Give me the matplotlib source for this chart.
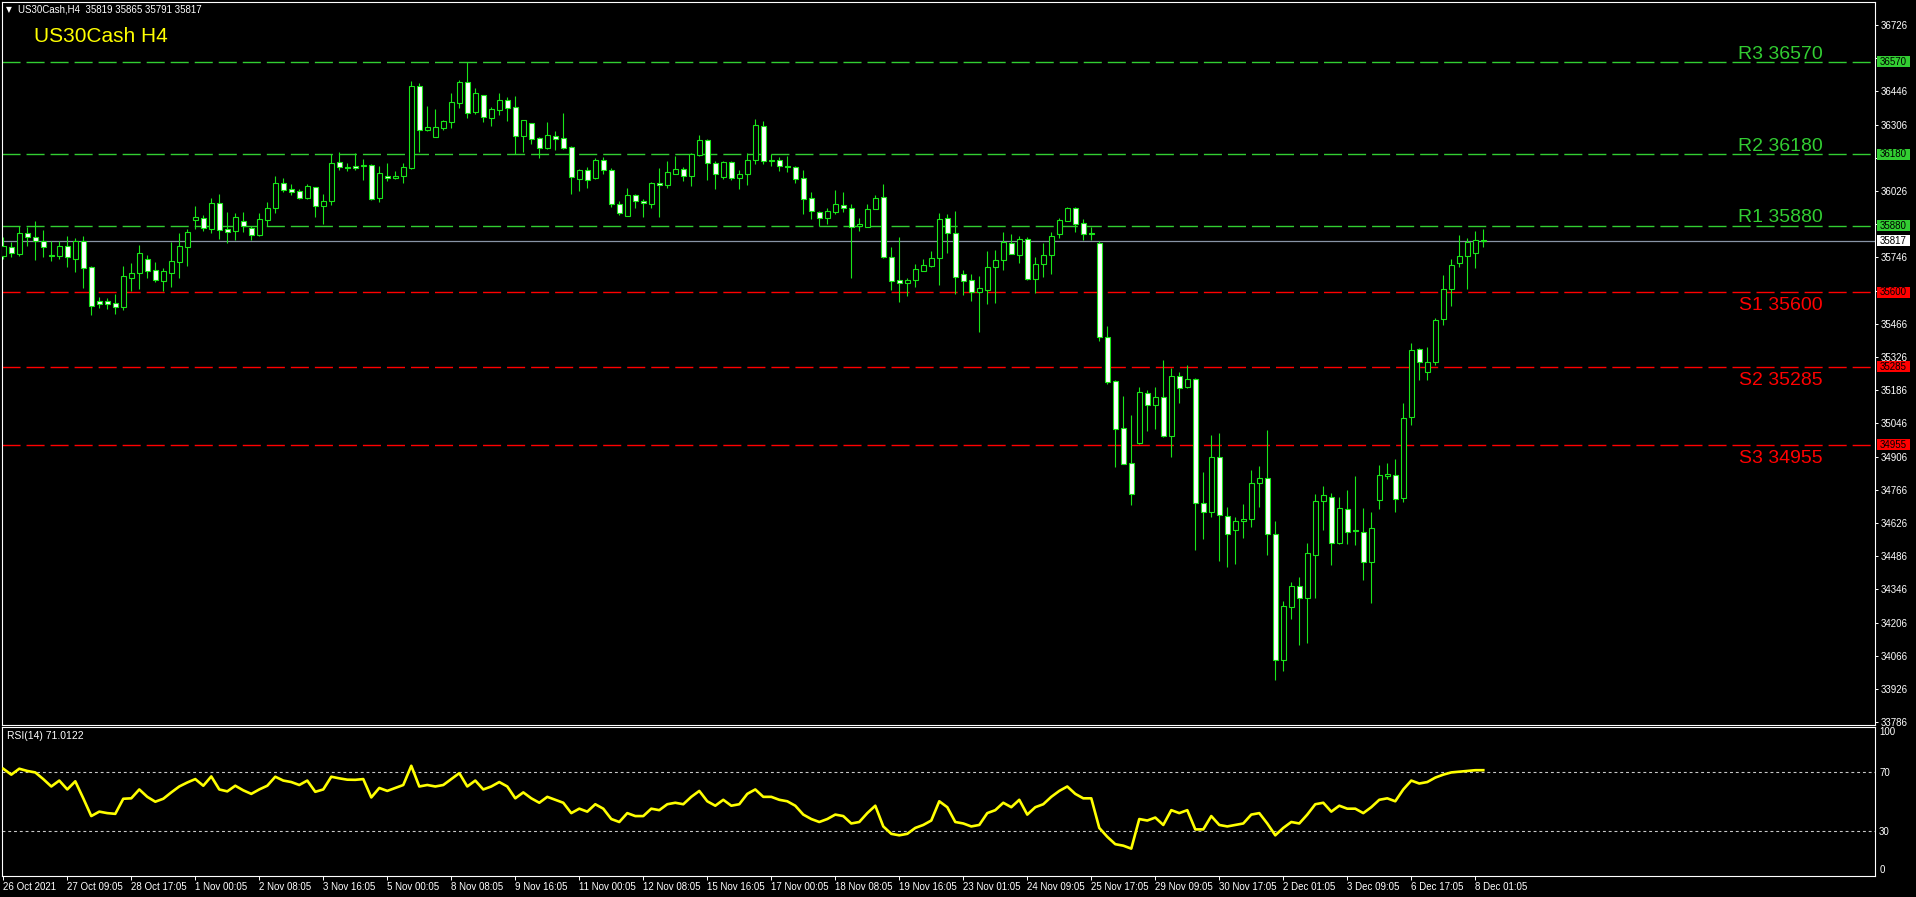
import matplotlib
matplotlib.use("Agg")
import matplotlib.pyplot as plt
import matplotlib.transforms as mtransforms
from matplotlib.patches import Rectangle
import numpy as np

plt.rcParams['font.family'] = ['Liberation Sans', 'DejaVu Sans']

# ---- data (US30Cash, H4) ----
opens = [35753, 35791, 35762, 35847, 35831, 35814, 35756, 35753, 35793, 35741,
         35815, 35705, 35561, 35561, 35552, 35538, 35660, 35679, 35738, 35691,
         35648, 35681, 35728, 35791, 35905, 35911, 35867, 35974, 35864, 35856,
         35898, 35871, 35840, 35905, 35956, 36058, 36033, 36025, 35998, 36041,
         35964, 35984, 36147, 36127, 36131, 36130, 36134, 35998, 36091, 36079,
         36091, 36124, 36467, 36282, 36255, 36293, 36318, 36398, 36484, 36361,
         36429, 36335, 36369, 36408, 36379, 36259, 36311, 36248, 36209, 36256,
         36248, 36210, 36078, 36113, 36079, 36155, 36113, 35973, 35922, 36008,
         35982, 35973, 36058, 36053, 36099, 36117, 36091, 36178, 36240, 36143,
         36085, 36147, 36082, 36096, 36155, 36300, 36155, 36155, 36133, 36126,
         36080, 35995, 35936, 35914, 35937, 35969, 35956, 35880, 35876, 35949,
         35999, 35749, 35649, 35636, 35652, 35690, 35710, 35743, 35911, 35847,
         35678, 35649, 35602, 35608, 35706, 35733, 35805, 35757, 35822, 35653,
         35719, 35757, 35845, 35901, 35953, 35889, 35847, 35805, 35412, 35226,
         35025, 34877, 34965, 35173, 35125, 35156, 34994, 35244, 35201, 35232,
         34709, 34671, 34903, 34654, 34595, 34633, 34641, 34793, 34814, 34578,
         34050, 34273, 34359, 34311, 34492, 34720, 34734, 34543, 34683, 34596,
         34589, 34460, 34721, 34823, 34830, 34730, 35071, 35358, 35261, 35306,
         35485, 35614, 35721, 35750, 35766, 35819]
highs = [35833, 35811, 35878, 35873, 35899, 35861, 35816, 35815, 35835, 35826,
         35835, 35710, 35579, 35575, 35592, 35710, 35722, 35798, 35756, 35726,
         35701, 35811, 35849, 35866, 35963, 35923, 35995, 36013, 35937, 35932,
         35937, 35878, 35932, 35980, 36089, 36079, 36055, 36034, 36055, 36044,
         36013, 36181, 36190, 36143, 36185, 36161, 36138, 36131, 36143, 36109,
         36145, 36490, 36480, 36384, 36372, 36327, 36441, 36494, 36569, 36462,
         36429, 36382, 36441, 36422, 36427, 36324, 36311, 36252, 36316, 36278,
         36354, 36216, 36120, 36127, 36165, 36168, 36122, 35984, 36039, 36013,
         35992, 36065, 36123, 36152, 36174, 36127, 36188, 36262, 36247, 36152,
         36152, 36154, 36114, 36186, 36330, 36320, 36180, 36170, 36174, 36133,
         36115, 36021, 35940, 35954, 36030, 36021, 35970, 35912, 35970, 36008,
         36055, 35789, 35831, 35658, 35717, 35741, 35773, 35933, 35928, 35941,
         35693, 35674, 35666, 35773, 35777, 35853, 35844, 35835, 35831, 35746,
         35806, 35853, 35911, 35960, 35960, 35908, 35873, 35815, 35455, 35227,
         35161, 35081, 35199, 35187, 35199, 35313, 35279, 35261, 35292, 35237,
         34841, 34995, 35005, 34693, 34651, 34706, 34849, 34866, 35018, 34633,
         34297, 34377, 34398, 34541, 34748, 34782, 34751, 34734, 34765, 34824,
         34689, 34672, 34869, 34877, 34894, 35130, 35386, 35362, 35367, 35489,
         35672, 35738, 35840, 35828, 35857, 35865]
lows = [35741, 35749, 35753, 35794, 35735, 35748, 35732, 35739, 35707, 35686,
        35618, 35504, 35534, 35528, 35509, 35525, 35603, 35613, 35659, 35644,
        35603, 35621, 35660, 35711, 35866, 35859, 35849, 35823, 35808, 35819,
        35853, 35819, 35836, 35880, 35932, 36023, 36009, 35992, 35992, 35916,
        35887, 35967, 36114, 36112, 36114, 36072, 35990, 35981, 36070, 36078,
        36061, 36119, 36192, 36280, 36255, 36283, 36292, 36376, 36334, 36351,
        36317, 36300, 36346, 36321, 36181, 36192, 36226, 36166, 36203, 36200,
        36202, 36015, 36027, 36040, 36078, 36099, 35960, 35926, 35921, 35956,
        35917, 35956, 35917, 36040, 36099, 36068, 36048, 36175, 36072, 36034,
        36078, 36072, 36034, 36053, 36138, 36141, 36133, 36112, 36107, 36059,
        35928, 35908, 35880, 35886, 35928, 35937, 35658, 35857, 35876, 35949,
        35743, 35607, 35559, 35583, 35621, 35690, 35706, 35629, 35765, 35591,
        35588, 35563, 35432, 35549, 35554, 35693, 35762, 35722, 35650, 35595,
        35663, 35675, 35826, 35901, 35853, 35818, 35818, 35393, 35211, 34863,
        34876, 34703, 34960, 35015, 35024, 34990, 34906, 35130, 35197, 34512,
        34560, 34652, 34467, 34442, 34454, 34564, 34610, 34695, 34492, 33962,
        34000, 34222, 34110, 34120, 34311, 34596, 34450, 34539, 34539, 34534,
        34387, 34290, 34686, 34813, 34674, 34716, 35039, 35230, 35230, 35292,
        35461, 35542, 35707, 35613, 35703, 35791]
closes = [35794, 35763, 35847, 35831, 35814, 35788, 35752, 35793, 35746, 35815,
          35703, 35539, 35551, 35551, 35538, 35666, 35679, 35763, 35690, 35649,
          35687, 35729, 35793, 35852, 35915, 35868, 35974, 35863, 35854, 35915,
          35877, 35842, 35906, 35953, 36058, 36032, 36023, 35998, 36046, 35964,
          35982, 36143, 36129, 36124, 36123, 36134, 35994, 36100, 36079, 36091,
          36126, 36467, 36282, 36294, 36294, 36321, 36400, 36484, 36356, 36438,
          36339, 36370, 36408, 36377, 36259, 36324, 36247, 36209, 36261, 36247,
          36209, 36086, 36113, 36074, 36155, 36113, 35973, 35935, 36008, 35982,
          35974, 36058, 36053, 36105, 36117, 36091, 36181, 36240, 36145, 36099,
          36147, 36082, 36096, 36155, 36305, 36151, 36152, 36133, 36126, 36078,
          35994, 35943, 35914, 35940, 35973, 35956, 35876, 35886, 35949, 35995,
          35748, 35647, 35636, 35649, 35698, 35712, 35745, 35906, 35850, 35664,
          35647, 35600, 35615, 35707, 35733, 35809, 35762, 35822, 35653, 35720,
          35754, 35838, 35902, 35953, 35888, 35845, 35846, 35412, 35220, 35023,
          34876, 34747, 35177, 35125, 35156, 34994, 35244, 35194, 35232, 34709,
          34671, 34903, 34658, 34578, 34633, 34641, 34793, 34814, 34578, 34048,
          34274, 34359, 34311, 34498, 34717, 34742, 34540, 34688, 34589, 34591,
          34460, 34603, 34827, 34831, 34726, 35067, 35357, 35303, 35306, 35481,
          35614, 35712, 35750, 35809, 35821, 35817]
rsi = [72, 68, 72, 70.5, 69.5, 65, 60, 64, 58, 63.5,
       52, 40, 43, 42, 41.5, 51.7, 52, 58, 53, 49.7,
       51.7, 56, 60, 62.7, 65, 60.5, 66.8, 58, 56.7, 60.5,
       57.4, 55, 58, 60.5, 66.6, 64, 63, 61, 64, 56.4,
       58, 66.6, 65.5, 64.6, 64.5, 65, 52.6, 59, 57, 59,
       61, 74, 60, 61, 60, 61, 65, 69, 60, 64,
       58, 60, 63, 60, 52, 56, 52, 49, 53, 51,
       49, 42, 45, 43, 48, 45, 38, 36, 42, 40,
       40, 45, 44, 48, 49, 48, 53, 57, 50, 47,
       51, 47, 48, 55, 58, 53, 53, 51, 50, 47,
       41, 38, 36, 38, 41, 40, 35, 36, 42, 47,
       33, 28, 27, 28, 32, 34, 37, 50, 46, 36,
       35, 33, 34, 42, 44, 49, 46, 51, 41, 46,
       48, 53, 57, 60, 55, 52, 52, 32, 26, 21,
       20, 18, 38, 37, 39, 34, 44, 42, 44, 31,
       31, 40, 34, 33, 34, 35, 41, 42, 35, 27,
       32, 36, 35, 41, 48, 49, 43, 47, 45, 45,
       42, 46, 51, 52, 50, 58, 64, 62, 63, 66,
       68, 69.5, 70, 70.5, 71, 71.0122]

time_labels = ["26 Oct 2021", "27 Oct 09:05", "28 Oct 17:05", "1 Nov 00:05",
               "2 Nov 08:05", "3 Nov 16:05", "5 Nov 00:05", "8 Nov 08:05",
               "9 Nov 16:05", "11 Nov 00:05", "12 Nov 08:05", "15 Nov 16:05",
               "17 Nov 00:05", "18 Nov 08:05", "19 Nov 16:05", "23 Nov 01:05",
               "24 Nov 09:05", "25 Nov 17:05", "29 Nov 09:05", "30 Nov 17:05",
               "2 Dec 01:05", "3 Dec 09:05", "6 Dec 17:05", "8 Dec 01:05"]
price_ticks = [36726, 36586, 36446, 36306, 36166, 36026, 35886, 35746, 35606,
               35466, 35326, 35186, 35046, 34906, 34766, 34626, 34486, 34346,
               34206, 34066, 33926, 33786]
level_names = ["R3", "R2", "R1", "S1", "S2", "S3"]
level_values = [36570, 36180, 35880, 35600, 35285, 34955]
last_price = 35817

# ---- layout in pixels ----
W, H = 1916, 897
GREEN = '#19e619'
LEVEL_GREEN = '#32cd32'
RED = '#ff0000'


def px_box(x0, y0, x1, y1):
    return [x0 / W, 1 - y1 / H, (x1 - x0) / W, (y1 - y0) / H]


fig = plt.figure(figsize=(W / 100, H / 100), dpi=100, facecolor='black')
ax = fig.add_axes(px_box(2, 2, 1875, 725))
ax_rsi = fig.add_axes(px_box(2, 727, 1875, 876))

n = len(closes)
idx = np.arange(n)
o = np.array(opens)
c = np.array(closes)
x_lo = -0.16
x_hi = x_lo + 1873 / 8
y_lo, y_hi = 33774, 36823

for a in (ax, ax_rsi):
    a.set_facecolor('black')
    a.set_xlim(x_lo, x_hi)
    for s in a.spines.values():
        s.set_color('white')
        s.set_linewidth(0.8)

# ---- candles ----
ax.vlines(idx, lows, highs, color=GREEN, lw=0.8, zorder=2)
bull = c >= o
ax.bar(idx, np.abs(c - o), bottom=np.minimum(o, c), width=0.62,
       color=np.where(bull, 'black', 'white'), edgecolor=GREEN,
       linewidth=0.8, zorder=3)

ax.set_ylim(y_lo, y_hi)
ax.set_xticks([])
ax.yaxis.tick_right()
ax.set_yticks(price_ticks)
# labels that sit under a level box are covered in the original, leave them blank
box_h = 11 * (y_hi - y_lo) / 723
covered = [p for p in price_ticks
           if any(abs(p - v) < 0.75 * box_h for v in level_values + [last_price])]
ax.set_yticklabels(['' if p in covered else str(p) for p in price_ticks])
ax.tick_params(axis='y', colors='white', labelsize=7, length=2.5, width=0.7, pad=1.5)

# pivot levels
blend = mtransforms.blended_transform_factory(ax.transAxes, ax.transData)
text_x = (1823 - 2) / 1873
for name, val in zip(level_names, level_values):
    col = LEVEL_GREEN if name.startswith('R') else RED
    ax.axhline(val, color=col, lw=1, dashes=(13, 4.3), zorder=1)
    off = 2.5 if name.startswith('R') else -13
    ax.annotate(f"{name} {val}", xy=(text_x, val), xycoords=blend,
                xytext=(0, off), textcoords='offset points',
                ha='right', va='baseline', color=col, fontsize=14)

ax.axhline(last_price, color='#8894a6', lw=0.9, zorder=1)

# price boxes on the right axis
box_w = 33 / 1873
box_cols = [LEVEL_GREEN] * 3 + [RED] * 3
for val, col in list(zip(level_values, box_cols)) + [(last_price, 'white')]:
    ax.add_patch(Rectangle((1 + 2 / 1873, val - box_h / 2), box_w, box_h,
                           transform=blend, facecolor=col, edgecolor='none',
                           clip_on=False, zorder=5))
    ax.text(1 + 2 / 1873 + box_w / 2, val, str(val), transform=blend,
            ha='center', va='center', fontsize=7, color='black',
            clip_on=False, zorder=6)

# ---- RSI panel ----
ax_rsi.plot(idx, rsi, color='#ffff00', lw=1.9, zorder=3)
for lvl in (70, 30):
    ax_rsi.axhline(lvl, color='#c8c8c8', lw=0.8, dashes=(2.6, 2.6), zorder=1)
ax_rsi.set_ylim(-0.5, 100.2)
ax_rsi.yaxis.tick_right()
ax_rsi.set_yticks([0, 30, 70, 100])
ax_rsi.set_yticklabels(['0', '30', '70', '100'])
ax_rsi.tick_params(axis='y', colors='white', labelsize=7, length=0, pad=3)
ylabs = ax_rsi.get_yticklabels()
ylabs[0].set_va('bottom')
ylabs[3].set_va('top')

ax_rsi.set_xticks(idx[::8][:len(time_labels)])
ax_rsi.set_xticklabels(time_labels, ha='left')
ax_rsi.tick_params(axis='x', colors='white', labelsize=7, length=3, width=0.7, pad=1.5)
ax_rsi.text(5 / 1873, 1 - 9 / 149, "RSI(14) 71.0122", transform=ax_rsi.transAxes,
            ha='left', va='center', color='white', fontsize=7.5)

# ---- header texts ----
fig.text(6 / W, 1 - 10 / H, "\u25bc", color='white', fontsize=5.5,
         ha='left', va='center', family='DejaVu Sans')
fig.text(18 / W, 1 - 10 / H, "US30Cash,H4  35819 35865 35791 35817",
         color='white', fontsize=7, ha='left', va='center')
fig.text(34 / W, 1 - 37 / H, "US30Cash H4", color='#ffff00', fontsize=15,
         ha='left', va='center')

fig.savefig('out.png', dpi=100, facecolor='black')
